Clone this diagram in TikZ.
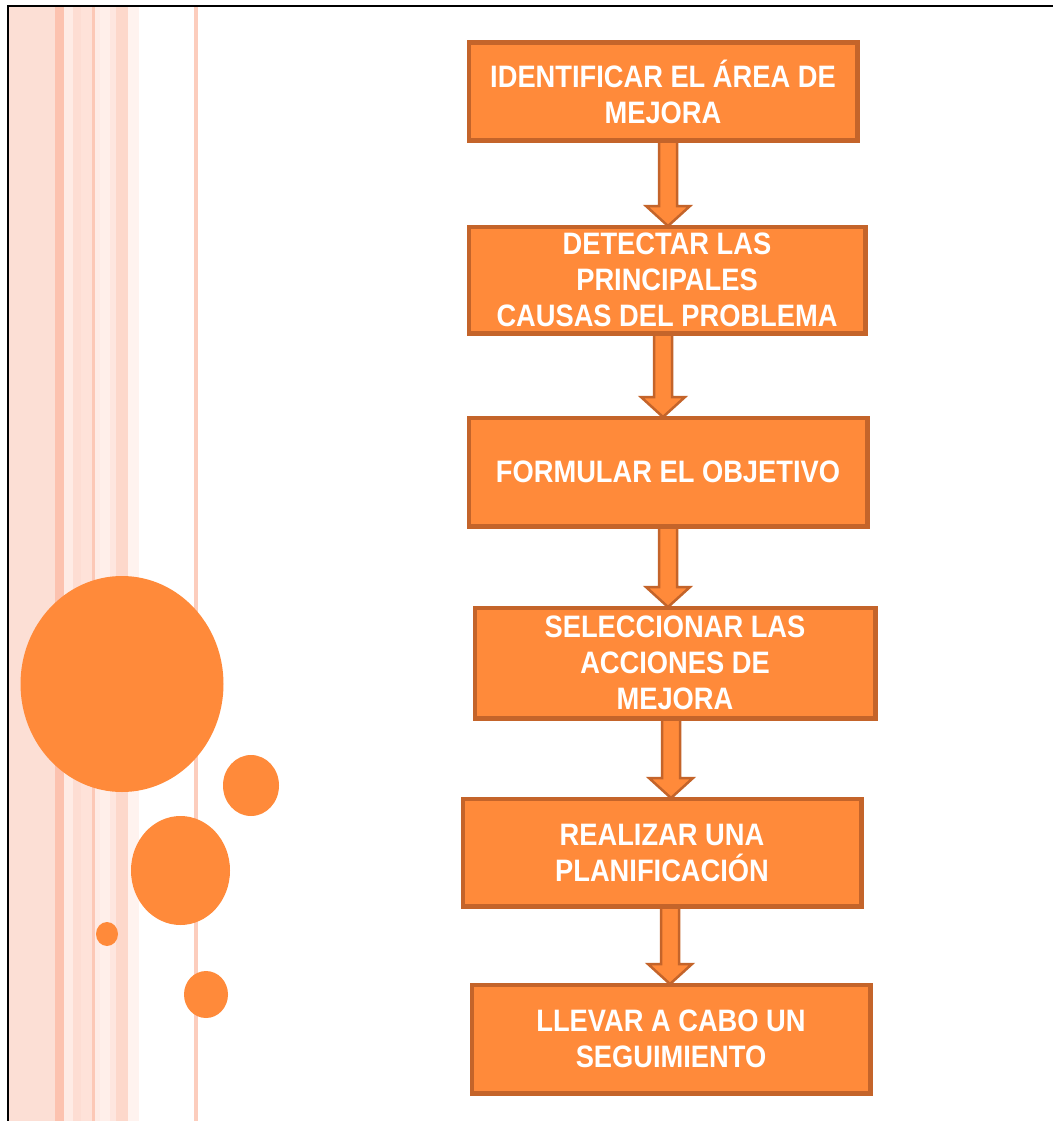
\documentclass[tikz,border=0pt]{standalone}
\usepackage{fontspec}
\setmainfont[FakeStretch=0.88]{Liberation Sans}
\usetikzlibrary{calc}

\definecolor{boxfill}{HTML}{FF8A3A}
\definecolor{boxline}{HTML}{C4642A}
\definecolor{stripeA}{HTML}{FCDFD5}
\definecolor{stripeB}{HTML}{FCC2AF}
\definecolor{stripeC}{HTML}{FEEBE5}
\definecolor{stripeD}{HTML}{FDDDD3}
\definecolor{stripeE}{HTML}{FEE2D9}
\definecolor{stripeF}{HTML}{FCC8B6}
\definecolor{stripeG}{HTML}{FFEFEA}
\definecolor{stripeH}{HTML}{FEE6DF}
\definecolor{stripeI}{HTML}{FDD8CB}
\definecolor{stripeJ}{HTML}{FFF3EF}
\definecolor{stripeK}{HTML}{FCCDBD}

\tikzset{
  stepbox/.style={draw=boxline, fill=boxfill, line width=3pt, inner sep=0pt,
    align=center, text=white, font=\bfseries\fontsize{31}{36}\selectfont},
  blockarrow/.style={draw=boxline, fill=boxfill, line width=2.5pt, line join=miter},
  dot/.style={fill=boxfill, draw=none}
}

% block arrow from the bottom of one box to the top of the next, centred at x=#3
\newcommand\flowarrow[3]{%
  \draw[blockarrow] let \p1=(#1.south), \p2=(#2.north) in
    (#3pt-9pt,\y1) -- (#3pt-9pt,\y2+20pt) -- (#3pt-22pt,\y2+20pt) -- (#3pt,\y2)
    -- (#3pt+22pt,\y2+20pt) -- (#3pt+9pt,\y2+20pt) -- (#3pt+9pt,\y1) -- cycle;}

\begin{document}
\begin{tikzpicture}[x=1pt,y=-1pt]
\useasboundingbox (0,0) rectangle (1053,1121);
\fill[white] (0,0) rectangle (1053,1121);

% vertical stripes on the left margin
\fill[stripeA] (9,6) rectangle (55,1121);
\fill[stripeB] (55,6) rectangle (64,1121);
\fill[stripeC] (64,6) rectangle (73,1121);
\fill[stripeD] (73,6) rectangle (81,1121);
\fill[stripeE] (81,6) rectangle (92,1121);
\fill[stripeF] (92,6) rectangle (94.5,1121);
\fill[stripeC] (94.5,6) rectangle (100,1121);
\fill[stripeG] (100,6) rectangle (110,1121);
\fill[stripeH] (110,6) rectangle (116,1121);
\fill[stripeI] (116,6) rectangle (128,1121);
\fill[stripeJ] (128,6) rectangle (139,1121);
\fill[stripeK] (193.5,6) rectangle (197.5,1121);

% frame lines
\draw[black, line width=2.5pt] (8,1121) -- (8,6) -- (1053,6);

% decorative circles
\fill[dot] (122,684) ellipse [x radius=101.5, y radius=108];
\fill[dot] (251,785.5) ellipse [x radius=28, y radius=30.5];
\fill[dot] (180.5,870.5) ellipse [x radius=49.5, y radius=54.5];
\fill[dot] (107,934) ellipse [x radius=11, y radius=12];
\fill[dot] (206,994.5) ellipse [x radius=22, y radius=23.5];

% process steps
\path
  (663,91.5) node[stepbox, minimum width=387, minimum height=96] (s1)
    {IDENTIFICAR EL ÁREA DE\\MEJORA}
  (667,280) node[stepbox, minimum width=395, minimum height=105] (s2)
    {DETECTAR LAS\\PRINCIPALES\\CAUSAS DEL PROBLEMA}
  (668,472) node[stepbox, minimum width=397, minimum height=107] (s3)
    {FORMULAR EL OBJETIVO}
  (675,663) node[stepbox, minimum width=399, minimum height=109] (s4)
    {SELECCIONAR LAS\\ACCIONES DE\\MEJORA}
  (662,852.5) node[stepbox, minimum width=397, minimum height=106] (s5)
    {REALIZAR UNA\\PLANIFICACIÓN}
  (671,1039) node[stepbox, minimum width=397, minimum height=107] (s6)
    {LLEVAR A CABO UN\\SEGUIMIENTO};

% arrows between steps
\flowarrow{s1}{s2}{668}
\flowarrow{s2}{s3}{663}
\flowarrow{s3}{s4}{668}
\flowarrow{s4}{s5}{671}
\flowarrow{s5}{s6}{670}

% redraw box edges over the arrow ends
\foreach \n in {s1,s2,s3,s4,s5,s6}
  \draw[boxline, line width=3pt] (\n.south west) rectangle (\n.north east);
\end{tikzpicture}
\end{document}
